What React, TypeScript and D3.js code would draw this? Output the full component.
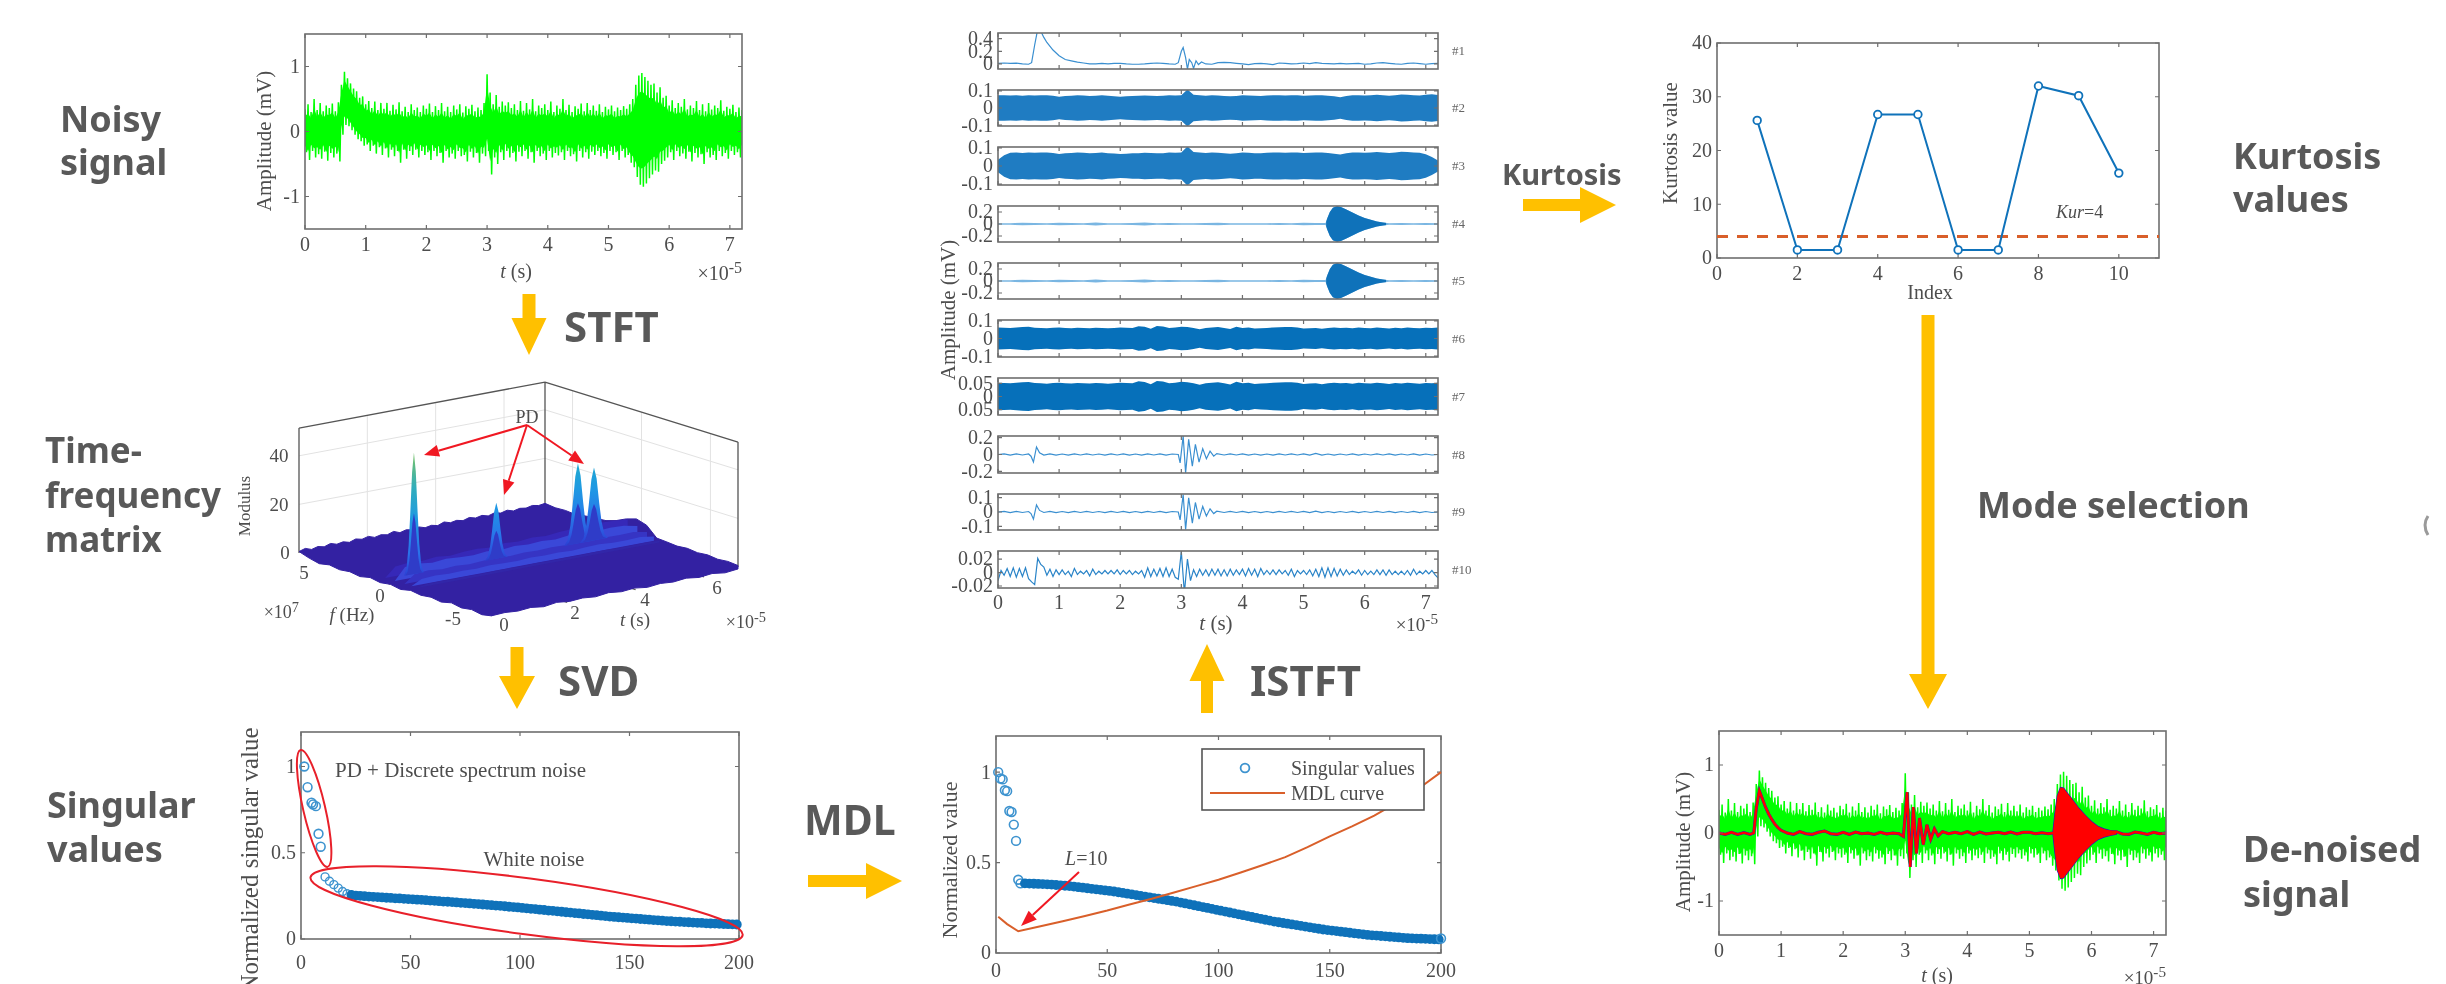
import React from "react";
import * as d3 from "d3";

const SERIF = "'Liberation Serif', serif";
const SANS = "'Noto Sans', sans-serif";
const INK = "#4d4d4d";
const FRAME = "#6e6e6e";
const BLUE = "#0f72ba";
const GREEN = "#00ff00";
const YELLOW = "#ffc000";
const GREY = "#595959";

// noisy signal envelope, one value every 0.05e-5 s
const noiseTimes = d3.range(145).map((i) => i * 0.05);
const noiseUpper = [
  0.34, 0.42, 0.3, 0.5, 0.33, 0.44, 0.31, 0.4, 0.36, 0.43, 0.31, 0.45,
  0.72, 0.92, 0.82, 0.74, 0.66, 0.62, 0.52, 0.54, 0.42, 0.47, 0.36, 0.46,
  0.33, 0.44, 0.35, 0.44, 0.32, 0.41, 0.34, 0.45, 0.31, 0.38, 0.3, 0.42,
  0.33, 0.37, 0.3, 0.4, 0.35, 0.43, 0.3, 0.39, 0.33, 0.44, 0.31, 0.38,
  0.3, 0.4, 0.34, 0.42, 0.29, 0.39, 0.35, 0.41, 0.31, 0.37, 0.33, 0.44,
  0.88, 0.6, 0.42, 0.56, 0.38, 0.46, 0.4, 0.45, 0.36, 0.42, 0.33, 0.47,
  0.32, 0.44, 0.34, 0.5, 0.31, 0.4, 0.36, 0.42, 0.33, 0.46, 0.3, 0.4,
  0.35, 0.5, 0.33, 0.41, 0.3, 0.39, 0.35, 0.43, 0.31, 0.44, 0.33, 0.4,
  0.32, 0.42, 0.3, 0.38, 0.34, 0.4, 0.31, 0.37, 0.33, 0.39, 0.35, 0.42,
  0.5, 0.72, 0.86, 0.9, 0.84, 0.78, 0.72, 0.74, 0.6, 0.68, 0.52, 0.55,
  0.4, 0.48, 0.36, 0.44, 0.38, 0.5, 0.34, 0.4, 0.36, 0.47, 0.33, 0.42,
  0.31, 0.44, 0.34, 0.4, 0.36, 0.48, 0.32, 0.38, 0.35, 0.41, 0.3, 0.37, 0.33,
];
const noiseLower = [
  -0.32, -0.44, -0.3, -0.4, -0.35, -0.42, -0.31, -0.45, -0.33, -0.4, -0.34, -0.46,
  -0.05, 0.1, 0.08, 0.02, -0.05, -0.12, -0.15, -0.22, -0.2, -0.3, -0.22, -0.34,
  -0.24, -0.36, -0.26, -0.4, -0.28, -0.38, -0.3, -0.48, -0.28, -0.42, -0.3, -0.36,
  -0.28, -0.4, -0.3, -0.36, -0.32, -0.44, -0.3, -0.38, -0.33, -0.48, -0.3, -0.4,
  -0.34, -0.42, -0.3, -0.38, -0.36, -0.46, -0.31, -0.4, -0.33, -0.48, -0.34, -0.38,
  -0.3, -0.66, -0.4, -0.5, -0.32, -0.44, -0.3, -0.4, -0.33, -0.46, -0.31, -0.38,
  -0.3, -0.42, -0.32, -0.48, -0.3, -0.38, -0.34, -0.44, -0.3, -0.4, -0.33, -0.37,
  -0.32, -0.44, -0.3, -0.38, -0.35, -0.46, -0.3, -0.4, -0.32, -0.42, -0.31, -0.36,
  -0.3, -0.38, -0.33, -0.42, -0.3, -0.36, -0.32, -0.44, -0.3, -0.4, -0.36, -0.48,
  -0.55, -0.7, -0.82, -0.85, -0.8, -0.72, -0.66, -0.6, -0.62, -0.5, -0.45, -0.4,
  -0.32, -0.44, -0.3, -0.38, -0.34, -0.42, -0.31, -0.46, -0.33, -0.4, -0.35, -0.5,
  -0.32, -0.4, -0.36, -0.44, -0.3, -0.38, -0.33, -0.42, -0.3, -0.36, -0.32, -0.4, -0.3,
];

// denoised trace
const denoisedTimes = [
  0, 0.1, 0.2, 0.3, 0.4, 0.5, 0.56, 0.6, 0.65, 0.7, 0.75, 0.8, 0.85, 0.9, 0.95, 1.0, 1.1, 1.2, 1.3, 1.4, 1.5, 1.6, 1.7, 1.8,
  1.9, 2.0, 2.1, 2.2, 2.3, 2.4, 2.5, 2.6, 2.7, 2.8, 2.9, 2.97, 3.03, 3.08, 3.13, 3.18, 3.23, 3.29, 3.35, 3.41, 3.47, 3.53,
  3.6, 3.7, 3.8, 3.9, 4.0, 4.1, 4.2, 4.3, 4.4, 4.5, 4.6, 4.7, 4.8, 4.9, 5.0, 5.1, 5.2, 5.3, 5.38, 6.4, 6.5, 6.6, 6.7, 6.8, 6.9, 7.0, 7.1, 7.2,
];
const denoisedValues = [
  0.0, -0.02, 0.01, -0.02, 0.005, -0.02, 0.0, 0.36, 0.62, 0.5, 0.38, 0.28, 0.2, 0.13, 0.08, 0.04, 0.0, -0.02, 0.02, -0.01, -0.02, 0.01, 0.03, -0.01,
  -0.02, 0.01, -0.02, 0.015, -0.01, 0.0, -0.02, 0.01, -0.015, 0.0, -0.01, -0.05, 0.6, -0.5, 0.38, -0.3, 0.22, -0.17, 0.12, -0.09, 0.06, -0.04,
  0.02, -0.01, 0.01, -0.01, 0.02, -0.02, 0.015, -0.015, 0.0, 0.01, -0.01, 0.015, -0.015, 0.01, 0.01, -0.01, 0.005, -0.01, 0.0, 0.02, -0.015, -0.02, 0.015, 0.0, -0.02, 0.01, -0.01, 0.0,
];
const burstTimes = [5.38, 5.41, 5.45, 5.5, 5.55, 5.6, 5.7, 5.8, 5.9, 6.0, 6.1, 6.2, 6.3, 6.4];
const denoisedBurst = [0.02, 0.28, 0.55, 0.67, 0.66, 0.6, 0.48, 0.36, 0.26, 0.17, 0.1, 0.06, 0.035, 0.02];

// component 1
const mode1Times = [
  0, 0.1, 0.2, 0.3, 0.4, 0.5, 0.55, 0.6, 0.64, 0.7, 0.75, 0.8, 0.9, 1.0, 1.1, 1.2, 1.3, 1.4, 1.5, 1.6, 1.7, 1.8, 1.9, 2.0, 2.1, 2.2, 2.3, 2.4, 2.5,
  2.6, 2.7, 2.8, 2.9, 2.95, 3.0, 3.03, 3.07, 3.1, 3.13, 3.17, 3.2, 3.24, 3.28, 3.33, 3.4, 3.5, 3.6, 3.7, 3.8, 3.9, 4.0, 4.1, 4.2, 4.3, 4.4, 4.5, 4.6,
  4.7, 4.8, 4.9, 5.0, 5.1, 5.2, 5.3, 5.4, 5.5, 5.6, 5.7, 5.8, 5.9, 6.0, 6.1, 6.2, 6.3, 6.4, 6.5, 6.6, 6.7, 6.8, 6.9, 7.0, 7.1, 7.2,
];
const mode1Values = [
  0.01, 0.015, 0.01, 0.012, 0.0, -0.005, 0.02, 0.3, 0.5, 0.52, 0.42, 0.34, 0.22, 0.13, 0.07, 0.05, 0.03, 0.015, 0.0, 0.0, 0.01, 0.0, 0.01, 0.01, 0.0, -0.005, -0.005, 0.0, 0.01,
  0.015, 0.01, 0.0, -0.005, 0.02, 0.2, 0.26, 0.1, -0.08, 0.07, 0.02, -0.07, 0.05, -0.01, 0.03, 0.0, -0.005, 0.02, 0.025, 0.02, 0.01, 0.0, -0.01, 0.005, 0.01, 0.0, -0.01, 0.015,
  0.01, 0.0, 0.005, 0.015, 0.005, 0.02, 0.01, 0.005, 0.0, 0.01, 0.0, 0.005, 0.01, -0.005, 0.0, 0.015, 0.02, 0.01, 0.0, -0.005, 0.01, 0.015, 0.005, -0.005, 0.005, 0.01,
];

// envelopes of the stationary components, one value every 0.1e-5 s
const envelopeTimes = d3.range(73).map((i) => i * 0.1);
const mode2Envelope = [
  0.074, 0.074, 0.073, 0.075, 0.072, 0.074, 0.073, 0.075, 0.074, 0.072, 0.066, 0.07, 0.072, 0.074, 0.073, 0.07, 0.072, 0.074, 0.071, 0.069,
  0.066, 0.068, 0.07, 0.071, 0.073, 0.072, 0.07, 0.071, 0.074, 0.073, 0.075, 0.108, 0.078, 0.074, 0.072, 0.075, 0.073, 0.07, 0.068, 0.07,
  0.074, 0.073, 0.071, 0.07, 0.073, 0.075, 0.074, 0.073, 0.075, 0.074, 0.072, 0.073, 0.075, 0.074, 0.072, 0.068, 0.063, 0.07, 0.074, 0.075,
  0.073, 0.075, 0.077, 0.075, 0.072, 0.075, 0.079, 0.078, 0.074, 0.073, 0.078, 0.08, 0.076,
];
const mode3Envelope = [0.035, 0.06, ...mode2Envelope.slice(2, -3), 0.065, 0.05, 0.03];
const mode7Envelope = [
  0.052, 0.051, 0.05, 0.052, 0.054, 0.055, 0.051, 0.05, 0.048, 0.051, 0.052, 0.05, 0.049, 0.051, 0.05, 0.049, 0.051, 0.05, 0.048, 0.05,
  0.052, 0.051, 0.05, 0.058, 0.055, 0.046, 0.059, 0.057, 0.05, 0.052, 0.056, 0.054, 0.05, 0.044, 0.05, 0.052, 0.054, 0.05, 0.045, 0.056,
  0.05, 0.052, 0.047, 0.049, 0.05, 0.052, 0.053, 0.054, 0.054, 0.052, 0.047, 0.049, 0.05, 0.046, 0.05, 0.052, 0.05, 0.051, 0.048, 0.052,
  0.05, 0.049, 0.052, 0.05, 0.047, 0.051, 0.049, 0.052, 0.05, 0.048, 0.051, 0.05, 0.052,
];
const mode6Envelope = mode7Envelope.map((v) => v * 1.2);

// component 4 and 5: burst at 5.5e-5 s
const burstModeTimes = [
  0, 0.2, 0.4, 0.6, 0.8, 1.0, 1.2, 1.4, 1.6, 1.8, 2.0, 2.2, 2.4, 2.6, 2.8, 3.0, 3.2, 3.4, 3.6, 3.8, 4.0, 4.2, 4.4, 4.6, 4.8, 5.0, 5.2,
  5.36, 5.39, 5.43, 5.48, 5.55, 5.62, 5.7, 5.8, 5.9, 6.0, 6.1, 6.2, 6.3, 6.4, 6.6, 6.8, 7.0, 7.2,
];
const burstModeEnvelope = [
  0.014, 0.014, 0.022, 0.016, 0.014, 0.022, 0.016, 0.014, 0.024, 0.014, 0.014, 0.016, 0.024, 0.014, 0.016, 0.014, 0.014, 0.018, 0.022, 0.014, 0.014, 0.014, 0.014, 0.016, 0.014, 0.022, 0.016,
  0.016, 0.1, 0.2, 0.27, 0.3, 0.28, 0.24, 0.19, 0.14, 0.1, 0.07, 0.04, 0.025, 0.014, 0.018, 0.014, 0.016, 0.014,
];

// component 8 and 9: ringing at 3e-5 s
const ringTimes = [
  0, 0.1, 0.2, 0.3, 0.4, 0.5, 0.54, 0.58, 0.63, 0.68, 0.75, 0.85, 0.95, 1.05, 1.15, 1.25, 1.35, 1.45, 1.55, 1.65, 1.75, 1.85, 1.95, 2.05, 2.15, 2.25, 2.35, 2.45,
  2.55, 2.65, 2.75, 2.85, 2.95, 2.98, 3.03, 3.07, 3.12, 3.18, 3.23, 3.29, 3.35, 3.41, 3.47, 3.53, 3.58, 3.7, 3.8, 3.9, 4.0, 4.1, 4.2, 4.3, 4.4, 4.5, 4.6, 4.7,
  4.8, 4.9, 5.0, 5.1, 5.2, 5.3, 5.4, 5.5, 5.6, 5.7, 5.8, 5.9, 6.0, 6.1, 6.2, 6.3, 6.4, 6.5, 6.6, 6.7, 6.8, 6.9, 7.0, 7.1, 7.2,
];
const ringValues = [
  0.0, 0.008, -0.008, 0.008, -0.006, 0.006, -0.02, -0.09, 0.09, 0.02, -0.006, 0.008, -0.008, 0.006, -0.008, 0.008, -0.006, 0.008, -0.006, 0.006, -0.008, 0.008, -0.006, 0.008, -0.008, 0.006, -0.008, 0.008,
  -0.006, 0.008, -0.008, 0.006, 0.0, -0.1, 0.22, -0.22, 0.18, -0.14, 0.12, -0.09, 0.07, -0.05, 0.04, -0.02, 0.01, -0.006, 0.008, -0.006, 0.008, -0.008, 0.006, -0.008, 0.006, -0.008, 0.008, -0.006,
  0.008, -0.006, 0.008, -0.008, 0.012, -0.008, 0.006, -0.008, 0.006, -0.006, 0.008, -0.008, 0.006, -0.006, 0.008, -0.006, 0.008, -0.008, 0.006, -0.006, 0.008, -0.008, 0.006, -0.006, 0.0,
];
const ring9Values = ringValues.map((v) => v * 0.55);

// component 10, one value every 0.05e-5 s
const mode10Values = [
  -0.012, 0.003, -0.004, 0.006, -0.006, 0.007, -0.007, 0.006, -0.006, 0.007, -0.009, -0.014,
  -0.018, 0.021, 0.012, 0.008, -0.004, 0.005, -0.006, 0.004, -0.003, 0.004, -0.003, 0.002,
  -0.006, 0.006, -0.003, 0.002, -0.002, 0.003, -0.005, 0.005, -0.003, 0.002, -0.002, 0.003,
  -0.002, 0.003, -0.002, 0.004, -0.003, 0.003, -0.002, 0.003, -0.003, 0.002, -0.002, 0.003,
  -0.007, 0.007, -0.006, 0.005, -0.005, 0.006, -0.006, 0.007, -0.006, 0.005, -0.007, -0.01,
  0.031, -0.03, 0.02, -0.012, 0.004, -0.006, 0.005, -0.004, 0.004, -0.005, 0.005, -0.004,
  0.005, -0.005, 0.004, -0.005, 0.005, -0.004, 0.004, -0.003, 0.005, -0.005, 0.006, -0.004,
  0.005, -0.006, 0.006, -0.003, 0.003, -0.003, 0.004, -0.003, 0.004, -0.002, 0.003, -0.004,
  0.005, -0.006, 0.003, -0.002, 0.003, -0.003, 0.004, -0.005, 0.005, -0.006, 0.007, -0.007,
  0.007, -0.006, 0.006, -0.005, 0.005, -0.004, 0.004, -0.003, 0.002, -0.002, 0.004, -0.004,
  0.003, -0.003, 0.002, -0.003, 0.004, -0.003, 0.004, -0.004, 0.004, -0.003, 0.002, -0.003,
  0.002, -0.003, 0.003, -0.004, 0.005, -0.003, 0.002, -0.002, 0.003, -0.002, 0.003, -0.003, -0.008,
];

// singular values before MDL
const svdHeadIndex = [1.5, 3, 4.8, 5.5, 6.8, 8, 9];
const svdHeadValues = [1, 0.88, 0.79, 0.78, 0.77, 0.61, 0.535];
const bandIndex = d3.range(95).map((i) => 11 + i * 2);
const svdBand = [
  0.36, 0.335, 0.315, 0.295, 0.275, 0.262, 0.256, 0.252, 0.25, 0.248, 0.246, 0.244, 0.243, 0.241, 0.239, 0.238, 0.236, 0.235, 0.233, 0.231,
  0.23, 0.228, 0.227, 0.225, 0.223, 0.221, 0.219, 0.217, 0.216, 0.214, 0.212, 0.21, 0.208, 0.206, 0.204, 0.202, 0.2, 0.198, 0.196, 0.194,
  0.192, 0.19, 0.187, 0.185, 0.183, 0.18, 0.178, 0.175, 0.173, 0.17, 0.168, 0.165, 0.163, 0.16, 0.158, 0.155, 0.153, 0.15, 0.148, 0.145,
  0.143, 0.14, 0.138, 0.135, 0.133, 0.13, 0.128, 0.126, 0.124, 0.122, 0.12, 0.118, 0.116, 0.114, 0.112, 0.11, 0.108, 0.106, 0.104, 0.103,
  0.101, 0.1, 0.098, 0.097, 0.095, 0.094, 0.093, 0.091, 0.09, 0.089, 0.088, 0.087, 0.086, 0.085, 0.084,
];

// singular values and MDL curve
const mdlHeadIndex = [1, 2, 3, 4, 5, 6, 7, 8, 9, 10, 11];
const mdlHeadValues = [1, 0.965, 0.96, 0.9, 0.895, 0.785, 0.78, 0.71, 0.62, 0.405, 0.385];
const mdlBand = [
  0.385, 0.384, 0.383, 0.382, 0.381, 0.38, 0.378, 0.376, 0.374, 0.372, 0.37, 0.367, 0.364, 0.361, 0.358, 0.355, 0.352, 0.349, 0.346, 0.343,
  0.34, 0.336, 0.332, 0.328, 0.324, 0.32, 0.316, 0.312, 0.308, 0.304, 0.3, 0.296, 0.292, 0.288, 0.284, 0.279, 0.274, 0.269, 0.264, 0.259,
  0.254, 0.249, 0.244, 0.239, 0.234, 0.229, 0.224, 0.219, 0.214, 0.209, 0.204, 0.199, 0.194, 0.189, 0.184, 0.179, 0.174, 0.17, 0.166, 0.162,
  0.158, 0.154, 0.15, 0.146, 0.142, 0.138, 0.134, 0.13, 0.127, 0.124, 0.121, 0.118, 0.115, 0.112, 0.109, 0.106, 0.103, 0.1, 0.098, 0.096,
  0.094, 0.092, 0.09, 0.088, 0.086, 0.084, 0.082, 0.081, 0.08, 0.079, 0.078, 0.077, 0.076, 0.075, 0.075,
];
const mdlIndex = [1, 5, 10, 20, 30, 40, 50, 60, 70, 80, 90, 100, 110, 120, 130, 140, 150, 160, 170, 180, 190, 200];
const mdlCurve = [0.2, 0.16, 0.12, 0.148, 0.176, 0.205, 0.235, 0.268, 0.3, 0.335, 0.37, 0.405, 0.445, 0.487, 0.53, 0.585, 0.645, 0.7, 0.76, 0.83, 0.91, 1.0];

// kurtosis per component
const kurtosisIndex = [1, 2, 3, 4, 5, 6, 7, 8, 9, 10];
const kurtosisValues = [25.6, 1.5, 1.5, 26.7, 26.7, 1.5, 1.5, 32, 30.2, 15.8];
const kurtosisLimit = 4;

// time-frequency surface
const ridgeTimes = [0.1, 0.4, 0.8, 1.2, 1.6, 2.0, 2.4, 2.8, 3.2, 3.6, 4.0, 4.4, 4.8, 5.2, 5.6, 6.0, 6.4, 6.8, 7.2];
const ridgeBack = [0, 4, 4.6, 4.2, 4.8, 4.2, 4.8, 5, 4.4, 5.2, 4.8, 5.4, 5, 5.6, 5.8, 5.2, 6.2, 6, 5.4];
const ridgeMid = [0, 5, 5.4, 4.6, 5.2, 4.8, 4.6, 5.2, 4.6, 5.2, 4.8, 5.2, 4.8, 5.4, 5.6, 5, 5.4, 5.2, 4];
const ridgeFront = [0, 3.4, 3.8, 3.2, 3.6, 3.2, 3.6, 3.8, 3.4, 3.8, 3.6, 3.8, 3.6, 4, 4.2, 3.8, 3.6, 3.8, 2.8];
const ridgeLow = [0, 2.2, 2.6, 2.2, 2.4, 2.2, 2.6, 2.4, 2.2, 2.6, 2.4, 2.6, 2.2, 2.6, 2.8, 2.4, 2.4, 2.6, 1.8];
const edgeBack = [
  0.6, 1.4, 0.5, 1.2, 0.6, 1.5, 0.7, 1.2, 0.5, 1.4, 0.8, 1.5, 0.6, 1.2, 0.7, 1.6, 0.6, 1.3, 0.8, 1.5,
  0.7, 1.2, 0.6, 1.6, 0.8, 1.3, 0.7, 1.5, 0.8, 1.4, 0.7, 1.5, 0.9, 1.6, 0.8, 1.4, 1, 1.6, 1.1, 1.5,
];
const edgeRight = [1.5, 1, 1.2, 0.8, 1.5, 1.8, 2.2, 3.5, 5.5, 6.8, 5.5, 1.5, 1.2, 0.8, 1.2, 0.7, 1.1, 0.6, 1, 0.6];
const edgeFront = [-0.8, -1.4, -0.7, -1.3, -0.6, -1.2, -0.8, -1.4, -0.7, -1.2, -0.6, -1.3, -0.8, -1.2, -0.6, -1.4, -0.7, -1.2, -0.8, -1.1];
const edgeLeft = [-1.2, -2, -1.2, -1.8, -1, -2, -1.3, -1.8, -1.1, -2, -1.2, -1.8, -1, -1.9, -1.2, -1.7, -1, -1.8, -0.8, 0.6];
const peakTimes = [0.58, 2.99, 5.38, 5.85];
const peakHeights = [50, 23, 33, 30];
const peakWidths = [1.2, 1.4, 1.7, 1.7];
const peakOffsets = [-0.24, -0.18, -0.13, -0.09, -0.045, 0, 0.045, 0.09, 0.13, 0.18, 0.24];
const peakShape = [0, 0.06, 0.24, 0.5, 0.84, 1, 0.84, 0.5, 0.24, 0.06, 0];

const fRange = [-7, 7];
const tMax = 7.2;
const tX = d3.scaleLinear().domain([0, tMax]).range([0, 246]);
const tY = d3.scaleLinear().domain([0, tMax]).range([0, -46]);
const fX = d3.scaleLinear().domain(fRange).range([0, -193]);
const fY = d3.scaleLinear().domain(fRange).range([0, -60]);
const zY = d3.scaleLinear().domain([0, 50]).range([0, -121.5]);
const project = (t: number, f: number, z: number): [number, number] => [492 + tX(t) + fX(f), 613 + tY(t) + fY(f) + zY(z)];
const parula = d3
  .scaleLinear<string>()
  .domain([0, 10, 22, 34, 50])
  .range(["#2c3ad0", "#2a70ea", "#1f96e6", "#1fa8d0", "#70c070"]);

const trace = d3.line<[number, number]>();

function Sci({ x, y, exp, size }: { x: number; y: number; exp: string; size: number }) {
  return (
    <text x={x} y={y} textAnchor="end" fontFamily={SERIF} fontSize={size} fill={INK}>
      ×10
      <tspan dy={-size * 0.35} fontSize={size * 0.8}>
        {exp}
      </tspan>
    </text>
  );
}

function Frame({ left, top, right, bottom, xDomain, yDomain, xTicks, yTicks, yLabels, size = 20, showX = true, xGap = 22, children }: any) {
  const x = d3.scaleLinear().domain(xDomain).range([left, right]);
  const y = d3.scaleLinear().domain(yDomain).range([bottom, top]);
  const id = `clip-${left}-${top}`;
  return (
    <g>
      <clipPath id={id}>
        <rect x={left} y={top} width={right - left} height={bottom - top} />
      </clipPath>
      <g clipPath={`url(#${id})`}>{children(x, y)}</g>
      <rect x={left} y={top} width={right - left} height={bottom - top} fill="none" stroke={FRAME} strokeWidth={1.6} />
      {xTicks.map((t: number) => (
        <g key={t}>
          <path d={`M${x(t)},${bottom}v-4M${x(t)},${top}v4`} stroke={FRAME} strokeWidth={1.2} />
          {showX && (
            <text x={x(t)} y={bottom + xGap} textAnchor="middle" fontFamily={SERIF} fontSize={size} fill={INK}>
              {t}
            </text>
          )}
        </g>
      ))}
      {yTicks.map((t: number, i: number) => (
        <g key={i}>
          <path d={`M${left},${y(t)}h4M${right},${y(t)}h-4`} stroke={FRAME} strokeWidth={1.2} />
          <text x={left - 5} y={y(t) + size * 0.32} textAnchor="end" fontFamily={SERIF} fontSize={size} fill={INK}>
            {yLabels ? yLabels[i] : t}
          </text>
        </g>
      ))}
    </g>
  );
}

function NoisePlot({ left, top, right, bottom, denoised }: any) {
  return (
    <Frame
      left={left}
      top={top}
      right={right}
      bottom={bottom}
      xDomain={[0, 7.2]}
      yDomain={[-1.5, 1.5]}
      xTicks={[0, 1, 2, 3, 4, 5, 6, 7]}
      yTicks={[-1, 0, 1]}
    >
      {(x: any, y: any) => {
        // the trace swings between the two envelopes, the middle is filled solid
        const swing: [number, number][] = noiseTimes.flatMap((t, i) => [
          [x(t), y(noiseUpper[i])],
          [x(t + 0.025), y(noiseLower[i])],
        ]);
        const core = d3
          .area<number>()
          .x((t) => x(t))
          .y0((_, i) => y(noiseLower[i] + (noiseUpper[i] - noiseLower[i]) * 0.16))
          .y1((_, i) => y(noiseUpper[i] - (noiseUpper[i] - noiseLower[i]) * 0.16));
        const burst = d3
          .area<number>()
          .x((t) => x(t))
          .y0((_, i) => y(-denoisedBurst[i]))
          .y1((_, i) => y(denoisedBurst[i]));
        const line = trace(denoisedTimes.map((t, i) => [x(t), y(denoisedValues[i])]));
        return (
          <g>
            <path d={core(noiseTimes) as string} fill={GREEN} />
            <path d={trace(swing) as string} fill="none" stroke={GREEN} strokeWidth={1.5} strokeLinejoin="miter" strokeMiterlimit={3} />
            {denoised && (
              <g>
                <path d={line as string} fill="none" stroke="#1a1ac8" strokeWidth={3} />
                <path d={burst(burstTimes) as string} fill="#1a1ac8" stroke="#1a1ac8" strokeWidth={1.2} />
                <path d={line as string} fill="none" stroke="#ff0000" strokeWidth={2.4} />
                <path d={burst(burstTimes) as string} fill="#ff0000" />
              </g>
            )}
          </g>
        );
      }}
    </Frame>
  );
}

const panelLeft = 998;
const panelRight = 1438;
const panelTicks = [0, 1, 2, 3, 4, 5, 6, 7];

function ModePanel({ top, bottom, domain, ticks, labels, name, render, showX }: any) {
  return (
    <g>
      <Frame
        left={panelLeft}
        top={top}
        right={panelRight}
        bottom={bottom}
        xDomain={[0, 7.2]}
        yDomain={domain}
        xTicks={panelTicks}
        yTicks={ticks}
        yLabels={labels}
        size={20}
        showX={showX}
        xGap={21}
      >
        {render}
      </Frame>
      <text x={1452} y={(top + bottom) / 2 + 4} fontFamily={SERIF} fontSize={13} fill="#666">
        {name}
      </text>
    </g>
  );
}

const envelopeArea = (times: number[], env: number[], fill: string) => (x: any, y: any) => {
  const area = d3
    .area<number>()
    .x((t) => x(t))
    .y0((_, i) => y(-env[i]))
    .y1((_, i) => y(env[i]));
  return <path d={area(times) as string} fill={fill} />;
};

const lineTrace = (times: number[], values: number[], color: string, width = 1.2) => (x: any, y: any) => (
  <path d={trace(times.map((t, i) => [x(t), y(values[i])])) as string} fill="none" stroke={color} strokeWidth={width} />
);

const burstPanel = (x: any, y: any) => {
  const area = d3
    .area<number>()
    .x((t) => x(t))
    .y0((_, i) => y(-burstModeEnvelope[i]))
    .y1((_, i) => y(burstModeEnvelope[i]));
  const id = `burst-${Math.round(y(0))}`;
  return (
    <g>
      <path d={area(burstModeTimes) as string} fill="#7ab6e2" />
      <clipPath id={id}>
        <rect x={x(5.37)} y={0} width={x(6.35) - x(5.37)} height={984} />
      </clipPath>
      <path d={area(burstModeTimes) as string} fill={BLUE} clipPath={`url(#${id})`} />
    </g>
  );
};

function YellowArrow({ x1, y1, x2, y2, shaft = 13, head = 36, headLen = 36 }: any) {
  const a = Math.atan2(y2 - y1, x2 - x1);
  const len = Math.hypot(x2 - x1, y2 - y1);
  const pts = [
    [0, -shaft / 2],
    [len - headLen, -shaft / 2],
    [len - headLen, -head / 2],
    [len, 0],
    [len - headLen, head / 2],
    [len - headLen, shaft / 2],
    [0, shaft / 2],
  ].map(([u, v]) => [x1 + u * Math.cos(a) - v * Math.sin(a), y1 + u * Math.sin(a) + v * Math.cos(a)]);
  return <polygon points={pts.map((p) => p.join(",")).join(" ")} fill={YELLOW} />;
}

function RedArrow({ x1, y1, x2, y2, head = 15 }: any) {
  const a = Math.atan2(y2 - y1, x2 - x1);
  const w = 6;
  const bx = x2 - head * Math.cos(a);
  const by = y2 - head * Math.sin(a);
  const pts = [
    [x2, y2],
    [bx - w * Math.sin(a), by + w * Math.cos(a)],
    [bx + w * Math.sin(a), by - w * Math.cos(a)],
  ];
  return (
    <g>
      <line x1={x1} y1={y1} x2={bx} y2={by} stroke="#f01822" strokeWidth={2} />
      <polygon points={pts.map((p) => p.join(",")).join(" ")} fill="#f01822" />
    </g>
  );
}

function Heading({ x, y, lines, size = 36, gap = 43 }: any) {
  return (
    <g fontFamily={SANS} fontWeight={700} fontSize={size} fill={GREY}>
      {lines.map((l: string, i: number) => (
        <text key={l} x={x} y={y + i * gap}>
          {l}
        </text>
      ))}
    </g>
  );
}

function SerifText({ x, y, size = 20, rotate, children, anchor = "middle", italic = false }: any) {
  return (
    <text
      x={x}
      y={y}
      textAnchor={anchor}
      fontFamily={SERIF}
      fontSize={size}
      fill={INK}
      fontStyle={italic ? "italic" : "normal"}
      transform={rotate ? `rotate(${rotate} ${x} ${y})` : undefined}
    >
      {children}
    </text>
  );
}

function Surface() {
  const poly = (pts: [number, number][]) => (d3.line()(pts) as string) + "Z";
  const gridT = [2, 4, 6];
  const gridF = [-5, 0, 5];
  const gridZ = [20, 40];
  const span = (arr: number[], i: number) => i / (arr.length - 1);
  const outline: [number, number][] = [
    ...edgeBack.map((z, i) => project(span(edgeBack, i) * tMax, 7, z)),
    ...edgeRight.map((z, i) => project(tMax, 7 - span(edgeRight, i) * 14, z)),
    ...edgeFront.map((z, i) => project((1 - span(edgeFront, i)) * tMax, -7, z)),
    ...edgeLeft.map((z, i) => project(0, -7 + span(edgeLeft, i) * 14, z)),
  ];
  const ridges = [
    { f: 1.0, z: ridgeBack, fill: "#3628b8" },
    { f: 0.3, z: ridgeMid, fill: "#3a48d8" },
    { f: -0.4, z: ridgeFront, fill: "#3634c4" },
    { f: -0.9, z: ridgeLow, fill: "#3a48d8" },
    { f: -1.3, z: ridgeLow.map((z) => z * 0.4), fill: "#3226a8" },
  ];
  const wall = (a: [number, number], b: [number, number]) => `M${a[0]},${a[1]}L${b[0]},${b[1]}`;
  return (
    <g>
      {gridZ.map((z) => (
        <g key={z}>
          <path d={wall(project(0, 7, z), project(tMax, 7, z))} stroke="#e2e2e2" strokeWidth={1} fill="none" />
          <path d={wall(project(tMax, 7, z), project(tMax, -7, z))} stroke="#e2e2e2" strokeWidth={1} fill="none" />
        </g>
      ))}
      {gridT.map((t) => (
        <path key={t} d={wall(project(t, 7, 0), project(t, 7, 51.4))} stroke="#e2e2e2" strokeWidth={1} fill="none" />
      ))}
      {gridF.map((f) => (
        <path key={f} d={wall(project(tMax, f, 0), project(tMax, f, 51.4))} stroke="#e2e2e2" strokeWidth={1} fill="none" />
      ))}
      <path
        d={
          wall(project(0, 7, 0), project(0, 7, 51.4)) +
          wall(project(0, 7, 51.4), project(tMax, 7, 51.4)) +
          wall(project(tMax, 7, 51.4), project(tMax, -7, 51.4)) +
          wall(project(tMax, -7, 51.4), project(tMax, -7, 0)) +
          wall(project(tMax, 7, 0), project(tMax, 7, 51.4))
        }
        stroke="#555"
        strokeWidth={1.3}
        fill="none"
      />
      {gridT.map((t) => (
        <path key={t} d={wall(project(t, -7, 0), project(t, -7.5, 0))} stroke="#555" strokeWidth={1.2} fill="none" />
      ))}
      {gridF.map((f) => (
        <path key={f} d={wall(project(0, f, 0), project(-0.2, f, 0))} stroke="#555" strokeWidth={1.2} fill="none" />
      ))}
      <path d={poly(outline)} fill="#3321a2" stroke="#3321a2" />
      {ridges.map((r) => (
        <path
          key={r.f}
          d={poly([...ridgeTimes.map((t, i) => project(t, r.f, r.z[i])), project(tMax, r.f, 0), project(0.1, r.f, 0)])}
          fill={r.fill}
        />
      ))}
      <defs>
        {peakTimes.map((t, k) => {
          const base = project(t, 0.1, 0);
          const tip = project(t, 0.1, peakHeights[k]);
          return (
            <linearGradient key={k} id={`peak-${k}`} gradientUnits="userSpaceOnUse" x1={base[0]} x2={tip[0]} y1={base[1]} y2={tip[1]}>
              {[0, 0.2, 0.5, 0.75, 1].map((s) => (
                <stop key={s} offset={s} stopColor={parula(s * peakHeights[k])} />
              ))}
            </linearGradient>
          );
        })}
      </defs>
      {peakTimes.map((t, k) => (
        <g key={k}>
          <path
            d={poly(peakOffsets.map((o, i) => project(t + o * peakWidths[k], 0.1, peakShape[i] * peakHeights[k] + 2)))}
            fill={`url(#peak-${k})`}
          />
          <path
            d={poly(peakOffsets.map((o, i) => project(t + o * peakWidths[k] * 0.85, 0.1, peakShape[i] * peakHeights[k] * 0.5 + 2)))}
            fill="#2f3cc8"
          />
        </g>
      ))}
    </g>
  );
}

export default function App() {
  const kx = d3.scaleLinear().domain([0, 11]).range([1717, 2159]);
  const ky = d3.scaleLinear().domain([0, 40]).range([258, 43]);
  return (
    <svg width={2446} height={984} style={{ position: "absolute", left: 0, top: 0, display: "block", filter: "blur(0.6px)" }}>
      <rect width={2446} height={984} fill="#fff" />

      {/* noisy signal */}
      <Heading x={60} y={132} lines={["Noisy", "signal"]} />
      <NoisePlot left={305} top={34} right={742} bottom={229} />
      <SerifText x={271} y={141} rotate={-90} size={21}>
        Amplitude (mV)
      </SerifText>
      <SerifText x={516} y={278} size={20}>
        <tspan fontStyle="italic">t</tspan> (s)
      </SerifText>
      <Sci x={742} y={280} exp="-5" size={20} />

      <YellowArrow x1={529} y1={294} x2={529} y2={355} shaft={13} head={35} headLen={37} />
      <Heading x={564} y={342} lines={["STFT"]} size={42} />

      {/* time-frequency matrix */}
      <Heading x={45} y={463} lines={["Time-", "frequency", "matrix"]} size={35} gap={44.5} />
      <Surface />
      <RedArrow x1={527} y1={425} x2={424} y2={455} />
      <RedArrow x1={527} y1={425} x2={504} y2={495} />
      <RedArrow x1={527} y1={425} x2={584} y2={464} />
      <SerifText x={527} y={423} size={18}>
        PD
      </SerifText>
      <SerifText x={279} y={462} size={19}>
        40
      </SerifText>
      <SerifText x={279} y={511} size={19}>
        20
      </SerifText>
      <SerifText x={285} y={559} size={19}>
        0
      </SerifText>
      <SerifText x={250} y={506} rotate={-90} size={17}>
        Modulus
      </SerifText>
      <SerifText x={304} y={579} size={19}>
        5
      </SerifText>
      <SerifText x={380} y={602} size={19}>
        0
      </SerifText>
      <SerifText x={453} y={625} size={19}>
        -5
      </SerifText>
      <Sci x={299} y={618} exp="7" size={18} />
      <SerifText x={352} y={621} size={19}>
        <tspan fontStyle="italic">f</tspan> (Hz)
      </SerifText>
      <SerifText x={504} y={631} size={19}>
        0
      </SerifText>
      <SerifText x={575} y={619} size={19}>
        2
      </SerifText>
      <SerifText x={645} y={606} size={19}>
        4
      </SerifText>
      <SerifText x={717} y={594} size={19}>
        6
      </SerifText>
      <SerifText x={635} y={626} size={19}>
        <tspan fontStyle="italic">t</tspan> (s)
      </SerifText>
      <Sci x={766} y={628} exp="-5" size={18} />

      <YellowArrow x1={517} y1={647} x2={517} y2={709} shaft={13} head={36} headLen={33} />
      <Heading x={558} y={696} lines={["SVD"]} size={42} />

      {/* singular values */}
      <Heading x={47} y={818} lines={["Singular", "values"]} gap={44} />
      <Frame
        left={301}
        top={732}
        right={739}
        bottom={939}
        xDomain={[0, 200]}
        yDomain={[0, 1.2]}
        xTicks={[0, 50, 100, 150, 200]}
        yTicks={[0, 0.5, 1]}
        xGap={30}
      >
        {() => null}
      </Frame>
      {(() => {
        const x = d3.scaleLinear().domain([0, 200]).range([301, 739]);
        const y = d3.scaleLinear().domain([0, 1.2]).range([939, 732]);
        return (
          <g>
            {svdHeadIndex.map((d, i) => (
              <circle key={i} cx={x(d)} cy={y(svdHeadValues[i])} r={4.4} fill="none" stroke="#3d93cf" strokeWidth={1.6} />
            ))}
            {bandIndex.map((d, i) => (
              <circle key={d} cx={x(d)} cy={y(svdBand[i])} r={4} fill={i < 6 ? "none" : BLUE} stroke={i < 6 ? "#3d93cf" : BLUE} strokeWidth={i < 6 ? 1.4 : 1.8} />
            ))}
            <ellipse cx={x(6)} cy={y(0.757)} rx={60} ry={11} fill="none" stroke="#e8202a" strokeWidth={2} transform={`rotate(77 ${x(6)} ${y(0.757)})`} />
            <ellipse cx={x(103)} cy={y(0.19)} rx={218} ry={28} fill="none" stroke="#e8202a" strokeWidth={2} transform={`rotate(7.6 ${x(103)} ${y(0.19)})`} />
          </g>
        );
      })()}
      <SerifText x={335} y={777} size={21} anchor="start">
        PD + Discrete spectrum noise
      </SerifText>
      <SerifText x={534} y={866} size={21}>
        White noise
      </SerifText>
      <SerifText x={258} y={860} rotate={-90} size={25}>
        Normalized singular value
      </SerifText>
      <SerifText x={511} y={998} size={20}>
        Index
      </SerifText>

      <YellowArrow x1={808} y1={881} x2={902} y2={881} shaft={12} head={36} headLen={36} />
      <Heading x={804} y={835} lines={["MDL"]} size={41} />

      {/* stacked modes */}
      <ModePanel top={33} bottom={69} domain={[-0.08, 0.49]} ticks={[0, 0.2, 0.4]} name="#1" showX={false} render={lineTrace(mode1Times, mode1Values, "#3a8fd0")} />
      <ModePanel top={90} bottom={126} domain={[-0.105, 0.105]} ticks={[-0.1, 0, 0.1]} name="#2" showX={false} render={envelopeArea(envelopeTimes, mode2Envelope, "#1f7cc2")} />
      <ModePanel top={147} bottom={185} domain={[-0.105, 0.105]} ticks={[-0.1, 0, 0.1]} name="#3" showX={false} render={envelopeArea(envelopeTimes, mode3Envelope, "#1f7cc2")} />
      <ModePanel top={206} bottom={242} domain={[-0.3, 0.3]} ticks={[-0.2, 0, 0.2]} name="#4" showX={false} render={burstPanel} />
      <ModePanel top={263} bottom={299} domain={[-0.3, 0.3]} ticks={[-0.2, 0, 0.2]} name="#5" showX={false} render={burstPanel} />
      <ModePanel top={320} bottom={357} domain={[-0.105, 0.105]} ticks={[-0.1, 0, 0.1]} name="#6" showX={false} render={envelopeArea(envelopeTimes, mode6Envelope, "#0670ba")} />
      <ModePanel top={378} bottom={415} domain={[-0.07, 0.07]} ticks={[-0.05, 0, 0.05]} labels={["0.05", "0", "0.05"]} name="#7" showX={false} render={envelopeArea(envelopeTimes, mode7Envelope, "#0670ba")} />
      <ModePanel top={436} bottom={473} domain={[-0.22, 0.22]} ticks={[-0.2, 0, 0.2]} name="#8" showX={false} render={lineTrace(ringTimes, ringValues, "#3a8fd0")} />
      <ModePanel top={494} bottom={530} domain={[-0.125, 0.125]} ticks={[-0.1, 0, 0.1]} name="#9" showX={false} render={lineTrace(ringTimes, ring9Values, "#3a8fd0")} />
      <ModePanel top={551} bottom={588} domain={[-0.023, 0.032]} ticks={[-0.02, 0, 0.02]} name="#10" showX render={lineTrace(noiseTimes, mode10Values, "#2a84c8")} />
      <SerifText x={955} y={310} rotate={-90} size={21}>
        Amplitude (mV)
      </SerifText>
      <SerifText x={1216} y={630} size={21}>
        <tspan fontStyle="italic">t</tspan> (s)
      </SerifText>
      <Sci x={1438} y={631} exp="-5" size={19} />

      <YellowArrow x1={1207} y1={713} x2={1207} y2={644} shaft={12} head={35} headLen={37} />
      <Heading x={1250} y={696} lines={["ISTFT"]} size={42} />

      {/* MDL */}
      <Frame
        left={996}
        top={736}
        right={1441}
        bottom={953}
        xDomain={[0, 200]}
        yDomain={[0, 1.2]}
        xTicks={[0, 50, 100, 150, 200]}
        yTicks={[0, 0.5, 1]}
        xGap={24}
      >
        {() => null}
      </Frame>
      {(() => {
        const x = d3.scaleLinear().domain([0, 200]).range([996, 1441]);
        const y = d3.scaleLinear().domain([0, 1.2]).range([953, 736]);
        return (
          <g>
            {mdlHeadIndex.map((d, i) => (
              <circle key={i} cx={x(d)} cy={y(mdlHeadValues[i])} r={4.4} fill="none" stroke="#3d93cf" strokeWidth={1.6} />
            ))}
            {bandIndex.slice(1).map((d, i) => (
              <circle key={d} cx={x(d)} cy={y(mdlBand[i])} r={4} fill={BLUE} stroke={BLUE} strokeWidth={1.8} />
            ))}
            <circle cx={x(200)} cy={y(0.08)} r={4.4} fill="none" stroke="#3d93cf" strokeWidth={1.6} />
            <path d={trace(mdlIndex.map((d, i) => [x(d), y(mdlCurve[i])])) as string} fill="none" stroke="#d95f2a" strokeWidth={2} />
          </g>
        );
      })()}
      <rect x={1202} y={749} width={222} height={61} fill="#fff" stroke="#555" strokeWidth={1.6} />
      <circle cx={1245} cy={768} r={4.4} fill="none" stroke="#3d93cf" strokeWidth={1.8} />
      <line x1={1210} x2={1285} y1={793} y2={793} stroke="#d95f2a" strokeWidth={2} />
      <SerifText x={1291} y={775} size={20} anchor="start">
        Singular values
      </SerifText>
      <SerifText x={1291} y={800} size={20} anchor="start">
        MDL curve
      </SerifText>
      <RedArrow x1={1079} y1={872} x2={1021} y2={926} head={16} />
      <SerifText x={1065} y={865} size={20} anchor="start">
        <tspan fontStyle="italic">L</tspan>=10
      </SerifText>
      <SerifText x={957} y={860} rotate={-90} size={22}>
        Normalized value
      </SerifText>
      <SerifText x={1221} y={998} size={20}>
        Index
      </SerifText>

      {/* kurtosis */}
      <Heading x={1502} y={185} lines={["Kurtosis"]} size={29} />
      <YellowArrow x1={1523} y1={205} x2={1616} y2={205} shaft={12} head={36} headLen={36} />
      <Frame
        left={1717}
        top={43}
        right={2159}
        bottom={258}
        xDomain={[0, 11]}
        yDomain={[0, 40]}
        xTicks={[0, 2, 4, 6, 8, 10]}
        yTicks={[0, 10, 20, 30, 40]}
      >
        {() => null}
      </Frame>
      <line x1={kx(0)} x2={kx(11)} y1={ky(kurtosisLimit)} y2={ky(kurtosisLimit)} stroke="#d95f2a" strokeWidth={3} strokeDasharray="11 9" />
      <path d={trace(kurtosisIndex.map((d, i) => [kx(d), ky(kurtosisValues[i])])) as string} fill="none" stroke={BLUE} strokeWidth={2} />
      {kurtosisIndex.map((d, i) => (
        <circle key={d} cx={kx(d)} cy={ky(kurtosisValues[i])} r={3.8} fill="#fff" stroke={BLUE} strokeWidth={1.8} />
      ))}
      <SerifText x={2056} y={218} size={18} anchor="start">
        <tspan fontStyle="italic">Kur</tspan>=4
      </SerifText>
      <SerifText x={1677} y={143} rotate={-90} size={21}>
        Kurtosis value
      </SerifText>
      <SerifText x={1930} y={299} size={20}>
        Index
      </SerifText>
      <Heading x={2233} y={169} lines={["Kurtosis", "values"]} />

      <YellowArrow x1={1928} y1={315} x2={1928} y2={709} shaft={13} head={38} headLen={35} />
      <Heading x={1977} y={518} lines={["Mode selection"]} size={36} />

      {/* de-noised */}
      <NoisePlot left={1719} top={731} right={2166} bottom={935} denoised />
      <SerifText x={1690} y={842} rotate={-90} size={21}>
        Amplitude (mV)
      </SerifText>
      <SerifText x={1937} y={982} size={20}>
        <tspan fontStyle="italic">t</tspan> (s)
      </SerifText>
      <Sci x={2166} y={984} exp="-5" size={19} />
      <Heading x={2243} y={862} lines={["De-noised", "signal"]} gap={45} />

      {/* stray arc at the right edge of the source figure */}
      <path d="M2428,516Q2422,525 2428,535" fill="none" stroke="#9a9a9a" strokeWidth={3} />
    </svg>
  );
}
